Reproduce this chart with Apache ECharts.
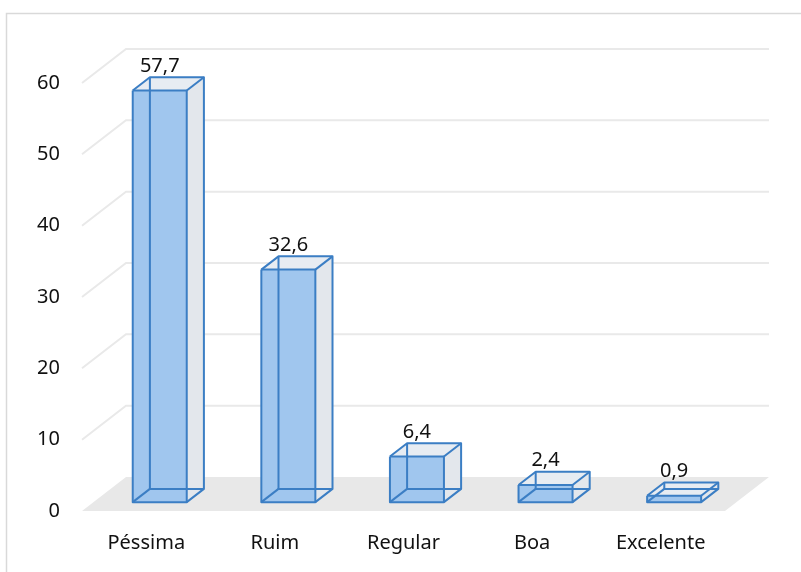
<!DOCTYPE html>
<html>
<head>
<meta charset="utf-8">
<script src="https://cdn.jsdelivr.net/npm/echarts@6/dist/echarts.min.js"></script>
<style>
  html, body { margin: 0; padding: 0; background: #fff; }
  #chart { width: 801px; height: 572px; }
</style>
</head>
<body>
<div id="chart"></div>
<script>
// dados
const categories = ['Péssima', 'Ruim', 'Regular', 'Boa', 'Excelente'];
const values = [57.7, 32.6, 6.4, 2.4, 0.9];
const gridValues = [10, 20, 30, 40, 50, 60];

// profundidade do "3D" (px)
const DX = 44, DY = -34;
const D0 = 0.26, D1 = 0.65;
const EDGE = '#3b7ec4';
const FONT = 'Noto Sans';

const chart = echarts.init(document.getElementById('chart'));

function renderGrid(params, api) {
    const cs = params.coordSys;
    const y = api.coord([0, api.value(1)])[1];
    return {
        type: 'polyline',
        shape: { points: [[cs.x, y], [cs.x + DX, y + DY], [cs.x + cs.width + DX, y + DY]] },
        style: { stroke: '#e9e9e9', lineWidth: 2, fill: null }
    };
}

function renderFloor(params, api) {
    const cs = params.coordSys;
    const y = api.coord([0, 0])[1];
    return {
        type: 'polygon',
        shape: { points: [[cs.x, y], [cs.x + cs.width, y], [cs.x + cs.width + DX, y + DY], [cs.x + DX, y + DY]] },
        style: { fill: '#e8e8e8' }
    };
}

function renderBar(params, api) {
    const i = api.value(0), v = api.value(1);
    const top = api.coord([i, v]), base = api.coord([i, 0]);
    const bw = api.size([1, 0])[0] * 0.42;
    const fl = top[0] - bw / 2 + D0 * DX + 2, fr = fl + bw;
    const ft = top[1] + D0 * DY, fb = base[1] + D0 * DY;
    const bl = fl + (D1 - D0) * DX, br = bl + bw;
    const bt = top[1] + D1 * DY, bb = base[1] + D1 * DY;
    const line = (pts) => ({
        type: 'polyline',
        shape: { points: pts },
        style: { stroke: EDGE, lineWidth: 2, fill: null, lineJoin: 'round' }
    });
    return {
        type: 'group',
        children: [
            { type: 'polygon', shape: { points: [[fr, ft], [br, bt], [br, bb], [fr, fb]] }, style: { fill: '#e3e7ec' } },
            { type: 'polygon', shape: { points: [[fl, ft], [bl, bt], [br, bt], [fr, ft]] }, style: { fill: '#e7ecf2' } },
            { type: 'rect', shape: { x: fl, y: ft, width: bw, height: fb - ft }, style: { fill: '#a0c6ee' } },
            line([[bl, bt], [bl, bb], [br, bb]]),
            line([[fl, fb], [bl, bb]]),
            line([[fl, ft], [bl, bt], [br, bt], [br, bb], [fr, fb]]),
            line([[fr, ft], [br, bt]]),
            line([[fl, ft], [fr, ft], [fr, fb], [fl, fb], [fl, ft]]),
            {
                type: 'text',
                x: (fl + fr) / 2, y: bt - 1,
                style: {
                    text: String(v).replace('.', ','),
                    fill: '#111', font: '20px "' + FONT + '"',
                    align: 'center', verticalAlign: 'bottom'
                }
            }
        ]
    };
}

chart.setOption({
    animation: false,
    graphic: [{
        type: 'rect',
        shape: { x: 6.5, y: 13.5, width: 820, height: 600 },
        style: { fill: null, stroke: '#d9d9d9', lineWidth: 1.5 }
    }],
    grid: { left: 82, right: 76, top: 83, bottom: 61 },
    xAxis: {
        type: 'category',
        data: categories,
        axisLine: { show: false },
        axisTick: { show: false },
        axisLabel: { margin: 22, color: '#111', fontSize: 20, fontFamily: FONT }
    },
    yAxis: {
        type: 'value',
        min: 0, max: 60, interval: 10,
        axisLine: { show: false },
        axisTick: { show: false },
        splitLine: { show: false },
        axisLabel: { margin: 22, color: '#111', fontSize: 20, fontFamily: FONT }
    },
    series: [
        { type: 'custom', z: 1, renderItem: renderFloor, data: [[0, 0]], silent: true },
        { type: 'custom', z: 2, renderItem: renderGrid, data: gridValues.map(v => [0, v]), silent: true },
        { type: 'custom', z: 3, renderItem: renderBar, data: values.map((v, i) => [i, v]) }
    ]
});
</script>
</body>
</html>
